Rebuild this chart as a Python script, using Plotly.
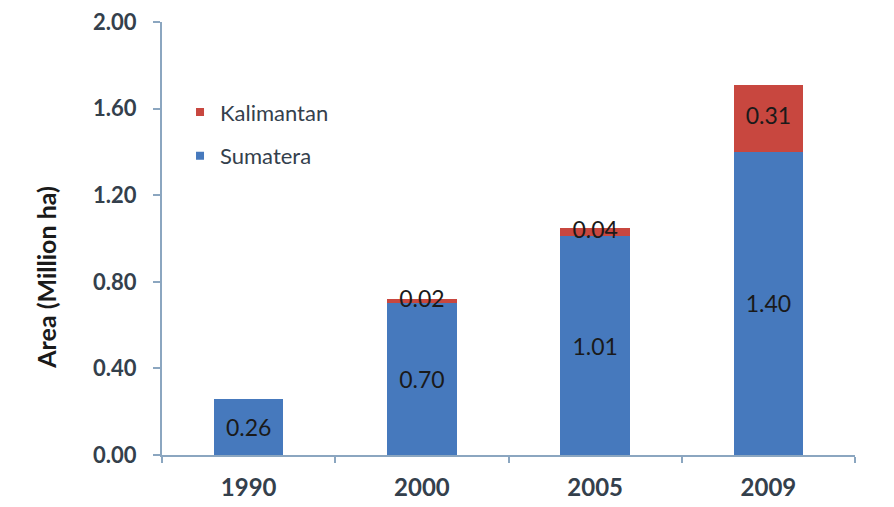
import plotly.graph_objects as go

years = ["1990", "2000", "2005", "2009"]
sumatera = [0.26, 0.70, 1.01, 1.40]
kalimantan = [0.0, 0.02, 0.04, 0.31]
y_ticks = [0.0, 0.4, 0.8, 1.2, 1.6, 2.0]
y_tick_text = ["0.00", "0.40", "0.80", "1.20", "1.60", "2.00"]

BLUE = "#4679BD"
RED = "#C8473F"
FONT = "Lato, 'Open Sans', sans-serif"
TXT = "#34404c"

fig = go.Figure()
fig.add_trace(go.Bar(
    x=years, y=sumatera, name="Sumatera", marker_color=BLUE, marker_line_width=0,
    text=[f"{v:.2f}" for v in sumatera], textposition="inside", insidetextanchor="middle",
    textfont=dict(color="#1a1a1a", size=23, family=FONT), showlegend=False,
    textangle=0, cliponaxis=False,
))
fig.add_trace(go.Bar(
    x=years, y=kalimantan, name="Kalimantan", marker_color=RED, marker_line_width=0,
    textposition="none", showlegend=False,
))
# Kalimantan labels, centred on each red segment
lab_x = [x for x, k in zip(years, kalimantan) if k > 0]
lab_y = [s + k / 2 for s, k in zip(sumatera, kalimantan) if k > 0]
lab_t = [f"{k:.2f}" for k in kalimantan if k > 0]
fig.add_trace(go.Scatter(
    x=lab_x, y=lab_y, text=lab_t, mode="text", showlegend=False,
    textfont=dict(color="#1a1a1a", size=23, family=FONT), cliponaxis=False,
))
# legend entries (small square keys)
for name, col, rank in [("Kalimantan", RED, 1), ("Sumatera", BLUE, 2)]:
    fig.add_trace(go.Scatter(
        x=[None], y=[None], mode="markers", name=name, legendrank=rank,
        legendgroup=name,
        marker=dict(symbol="square", size=8, color=col),
    ))

fig.update_layout(
    width=894, height=507,
    barmode="stack", bargap=0.6,
    paper_bgcolor="white", plot_bgcolor="white",
    margin=dict(l=154, r=47, t=14, b=60),
    font=dict(family=FONT, color=TXT),
    showlegend=True,
    legend=dict(
        x=0.026, y=0.84, xanchor="left", yanchor="top",
        traceorder="grouped", tracegroupgap=12, itemwidth=30,
        font=dict(size=22, color=TXT, family=FONT),
        bgcolor="rgba(0,0,0,0)",
    ),
    xaxis=dict(
        showline=True, linecolor="#8ba6c0", linewidth=2,
        ticks="outside", tickcolor="#8ba6c0", ticklen=6, tickwidth=2,
        tickson="boundaries", automargin=False, ticklabelstandoff=10,
        ticklabeloverflow="allow",
        tickfont=dict(size=24, color=TXT, family=FONT, weight="bold"),
        showgrid=False,
    ),
    yaxis=dict(
        range=[0, 2.0], tickvals=y_ticks, ticktext=y_tick_text,
        showline=True, linecolor="#8ba6c0", linewidth=2,
        ticks="outside", tickcolor="#8ba6c0", ticklen=7, tickwidth=2,
        automargin=False, ticklabelstandoff=12, ticklabeloverflow="allow",
        tickfont=dict(size=22, color=TXT, family=FONT, weight="bold"),
        showgrid=False, zeroline=False,
    ),
    annotations=[dict(
        text="Area (Million ha)", textangle=-90, showarrow=False,
        xref="paper", yref="paper", x=-0.167, y=0.41,
        xanchor="center", yanchor="middle",
        font=dict(size=25, color="#1a1a1a", family=FONT, weight="bold"),
    )],
)

fig.write_html("out.html")
